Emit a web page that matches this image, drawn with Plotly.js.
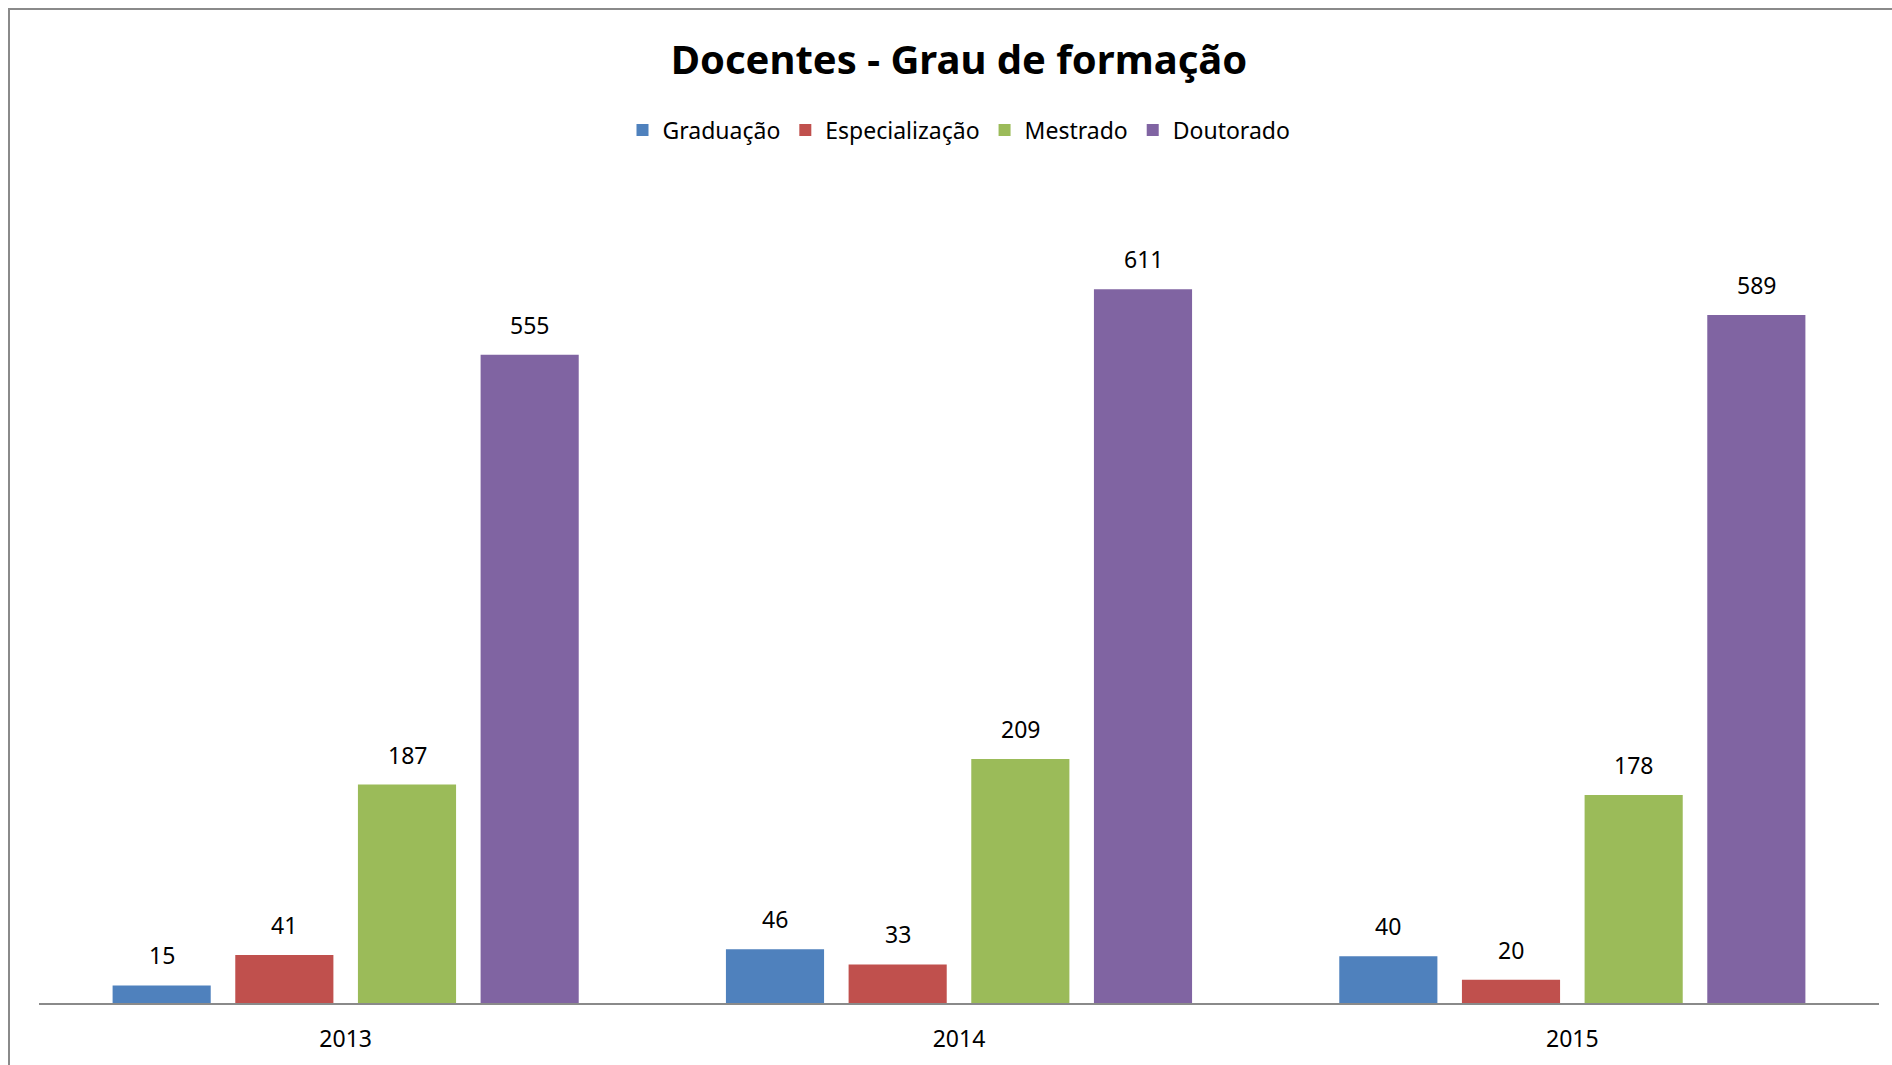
<!DOCTYPE html>
<html>
<head>
<meta charset="utf-8">
<script src="https://cdn.plot.ly/plotly-3.0.1.min.js"></script>
<style>
  body { margin: 0; background: #fff; }
  #chart { position: absolute; left: 0; top: 0; width: 1892px; height: 1065px; }
  #frame { position: absolute; left: 8px; top: 8px; width: 1900px; height: 1100px;
           border-left: 2px solid #8a8a8a; border-top: 2px solid #8a8a8a; pointer-events: none; }
</style>
</head>
<body>
<div id="chart"></div>
<div id="frame"></div>
<script>
// data
const years = ["2013", "2014", "2015"];
const graduacao = [15, 46, 40];
const especializacao = [41, 33, 20];
const mestrado = [187, 209, 178];
const doutorado = [555, 611, 589];

const seriesNames = ["Graduação", "Especialização", "Mestrado", "Doutorado"];
const seriesValues = [graduacao, especializacao, mestrado, doutorado];
const colors = ["#4F81BD", "#C0504D", "#9BBB59", "#8064A2"];

const font = "Noto Sans, Open Sans, sans-serif";
const bargap = 0.2;

const data = seriesNames.map((name, i) => ({
  type: "bar",
  name: name,
  x: years,
  y: seriesValues[i],
  marker: { color: colors[i] },
  hoverinfo: "x+y+name"
}));

// value labels above each bar (same slot the grouped bar uses)
const nSeries = seriesNames.length;
const slot = (1 - bargap) / nSeries;
const annotations = [];
seriesValues.forEach((vals, i) => {
  vals.forEach((v, j) => {
    annotations.push({
      x: j + (i - (nSeries - 1) / 2) * slot,
      y: v,
      xref: "x", yref: "y",
      text: String(v),
      showarrow: false,
      yanchor: "bottom",
      yshift: 12,
      font: { family: font, size: 23, color: "#000" }
    });
  });
});

const layout = {
  width: 1892,
  height: 1065,
  margin: { l: 39, r: 13, t: 180, b: 62 },
  paper_bgcolor: "#fff",
  plot_bgcolor: "#fff",
  font: { family: font, size: 23, color: "#000" },
  title: {
    text: "<b>Docentes - Grau de formação</b>",
    font: { family: font, size: 40, color: "#000" },
    xref: "paper", x: 0.5, xanchor: "center",
    yref: "container", y: 1 - 60 / 1065, yanchor: "middle"
  },
  barmode: "group",
  bargap: bargap,
  bargroupgap: 0.2,
  showlegend: true,
  legend: {
    orientation: "h",
    x: 0.5, xanchor: "center",
    y: 1.0608, yanchor: "middle",
    font: { family: font, size: 23, color: "#000" },
    itemwidth: 30,
    traceorder: "normal"
  },
  annotations: annotations,
  xaxis: {
    type: "category",
    showline: true,
    linecolor: "#8a8a8a",
    linewidth: 2,
    ticks: "",
    ticklabelstandoff: 14,
    tickfont: { family: font, size: 23, color: "#000" },
    showgrid: false,
    zeroline: false
  },
  yaxis: {
    range: [0, 704.6],
    showgrid: false,
    zeroline: false,
    showticklabels: false,
    showline: false,
    ticks: ""
  }
};

Plotly.newPlot("chart", data, layout, { displayModeBar: false, staticPlot: true });
</script>
</body>
</html>
